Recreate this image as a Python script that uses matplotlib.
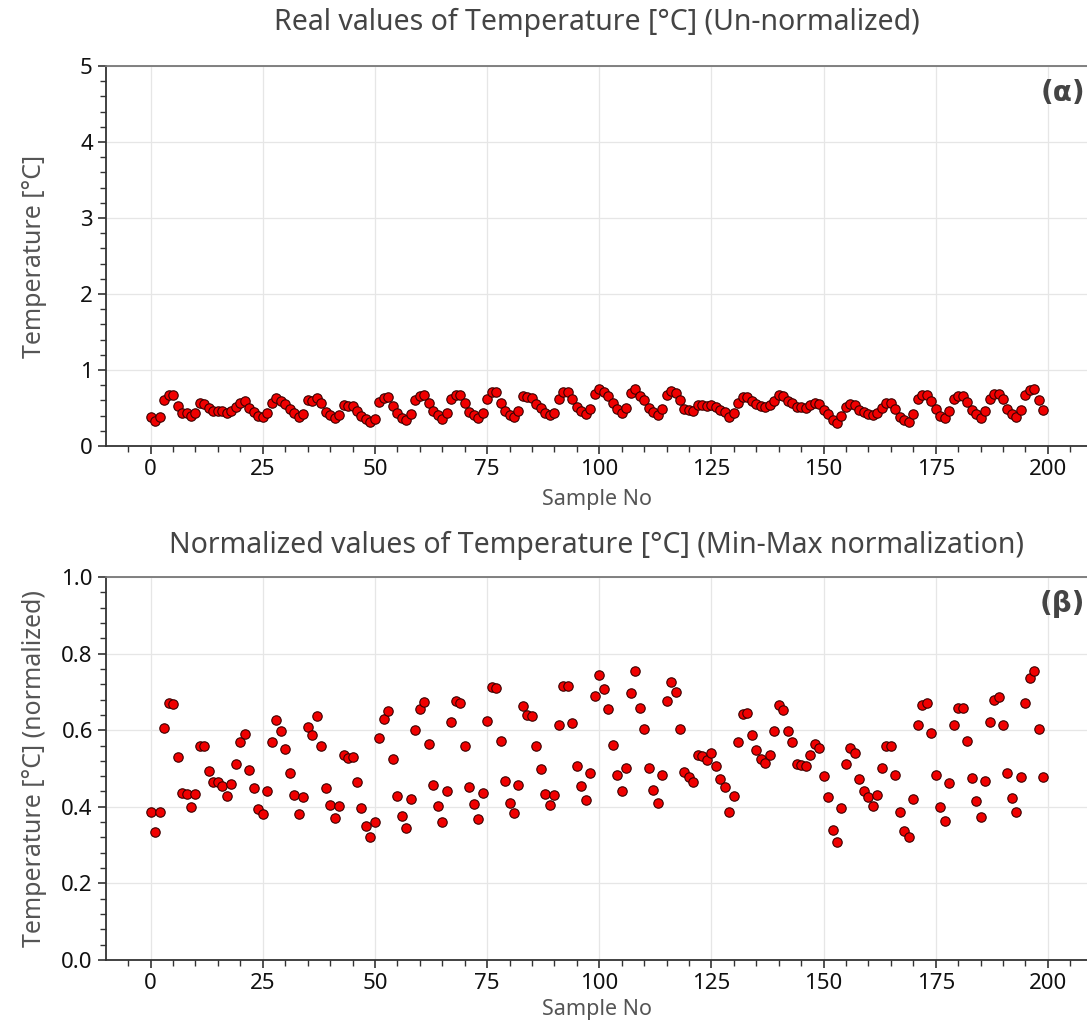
import numpy as np
import matplotlib
matplotlib.use("Agg")
from matplotlib import pyplot as plt
from matplotlib.ticker import MultipleLocator, AutoMinorLocator, FormatStrFormatter

# temperature samples (same values in both panels)
temperature = [
    0.386, 0.335, 0.386, 0.606, 0.671, 0.668, 0.531, 0.435, 0.433, 0.399,
    0.433, 0.560, 0.558, 0.494, 0.465, 0.465, 0.455, 0.428, 0.460, 0.512,
    0.569, 0.590, 0.497, 0.448, 0.395, 0.382, 0.440, 0.570, 0.627, 0.597,
    0.551, 0.489, 0.432, 0.382, 0.426, 0.609, 0.587, 0.638, 0.560, 0.448,
    0.404, 0.371, 0.402, 0.536, 0.528, 0.531, 0.465, 0.396, 0.349, 0.321,
    0.360, 0.580, 0.629, 0.651, 0.524, 0.428, 0.375, 0.345, 0.420, 0.600,
    0.655, 0.674, 0.564, 0.458, 0.402, 0.360, 0.440, 0.622, 0.676, 0.671,
    0.560, 0.453, 0.407, 0.367, 0.435, 0.624, 0.712, 0.709, 0.572, 0.467,
    0.410, 0.383, 0.458, 0.664, 0.639, 0.636, 0.558, 0.499, 0.433, 0.404,
    0.431, 0.613, 0.716, 0.716, 0.619, 0.507, 0.455, 0.418, 0.489, 0.690,
    0.745, 0.707, 0.656, 0.562, 0.482, 0.440, 0.502, 0.698, 0.754, 0.658,
    0.602, 0.502, 0.445, 0.410, 0.482, 0.676, 0.727, 0.700, 0.604, 0.490,
    0.477, 0.465, 0.535, 0.533, 0.521, 0.541, 0.507, 0.472, 0.453, 0.386,
    0.428, 0.570, 0.641, 0.645, 0.587, 0.547, 0.524, 0.514, 0.536, 0.598,
    0.666, 0.653, 0.598, 0.568, 0.511, 0.509, 0.506, 0.536, 0.563, 0.553,
    0.480, 0.425, 0.339, 0.308, 0.398, 0.511, 0.554, 0.541, 0.472, 0.441,
    0.425, 0.402, 0.432, 0.502, 0.560, 0.560, 0.482, 0.386, 0.338, 0.321,
    0.421, 0.614, 0.665, 0.671, 0.592, 0.482, 0.399, 0.362, 0.462, 0.614,
    0.658, 0.658, 0.573, 0.474, 0.415, 0.374, 0.467, 0.622, 0.680, 0.687,
    0.614, 0.487, 0.424, 0.386, 0.477, 0.671, 0.736, 0.754, 0.602, 0.477,
]
sample_no = np.arange(len(temperature))

titles = ["Real values of Temperature [°C] (Un-normalized)",
          "Normalized values of Temperature [°C] (Min-Max normalization)"]
ylabels = ["Temperature [°C]", "Temperature [°C] (normalized)"]
tags = ["(α)", "(β)"]
ylims = [(0, 5), (0, 1.0)]
ymajor = [1, 0.2]

plt.rcParams['font.family'] = ['Noto Sans', 'DejaVu Sans']

W, H = 1087, 1032
fig = plt.figure(figsize=(W / 100, H / 100), dpi=100)

# pixel boxes (left, top, right, bottom)
boxes = [(106, 66, 1088, 446), (106, 577, 1088, 960)]
title_y = [22, 545]
xlabel_y = [500, 1010]

for k in range(2):
    l, t, r, b = boxes[k]
    ax = fig.add_axes([l / W, 1 - b / H, (r - l) / W, (b - t) / H])
    ax.scatter(sample_no, temperature, s=46, color='#f00000',
               edgecolors='#3a0000', linewidths=0.8, zorder=3)
    ax.set_ylim(*ylims[k])
    ax.set_xlim(-9.95, 208.95)
    ax.xaxis.set_major_locator(MultipleLocator(25))
    ax.xaxis.set_minor_locator(MultipleLocator(5))
    ax.yaxis.set_major_locator(MultipleLocator(ymajor[k]))
    ax.yaxis.set_minor_locator(AutoMinorLocator(5))
    if k == 1:
        ax.yaxis.set_major_formatter(FormatStrFormatter('%.1f'))
    ax.grid(True, which='major', color='#e6e6e6', linewidth=0.9)
    ax.set_axisbelow(True)
    ax.tick_params(which='major', direction='out', length=6, width=1.2,
                   labelsize=16, color='#333333', labelcolor='#111111')
    ax.tick_params(which='minor', direction='out', length=4, width=1.0,
                   color='#333333')
    ax.spines['right'].set_visible(False)
    ax.spines['top'].set_color('#777777')
    ax.spines['top'].set_linewidth(1.3)
    for s in ['left', 'bottom']:
        ax.spines[s].set_color('#333333')
        ax.spines[s].set_linewidth(1.3)

    ax.text(0.997, 0.93, tags[k], transform=ax.transAxes, ha='right', va='center',
            fontsize=20, fontweight='bold', color='#444444',
            family=['DejaVu Sans'])
    fig.text((l + r) / 2 / W, 1 - title_y[k] / H, titles[k], ha='center',
             va='center', fontsize=20.5, color='#444444')
    fig.text((l + r) / 2 / W, 1 - xlabel_y[k] / H, "Sample No", ha='center',
             va='center', fontsize=15.5, color='#555555')
    fig.text(35 / W, 1 - (t + b) / 2 / H, ylabels[k], rotation=90, ha='center',
             va='center', fontsize=18, color='#555555')

fig.savefig("out.png", dpi=100)
plt.close(fig)
